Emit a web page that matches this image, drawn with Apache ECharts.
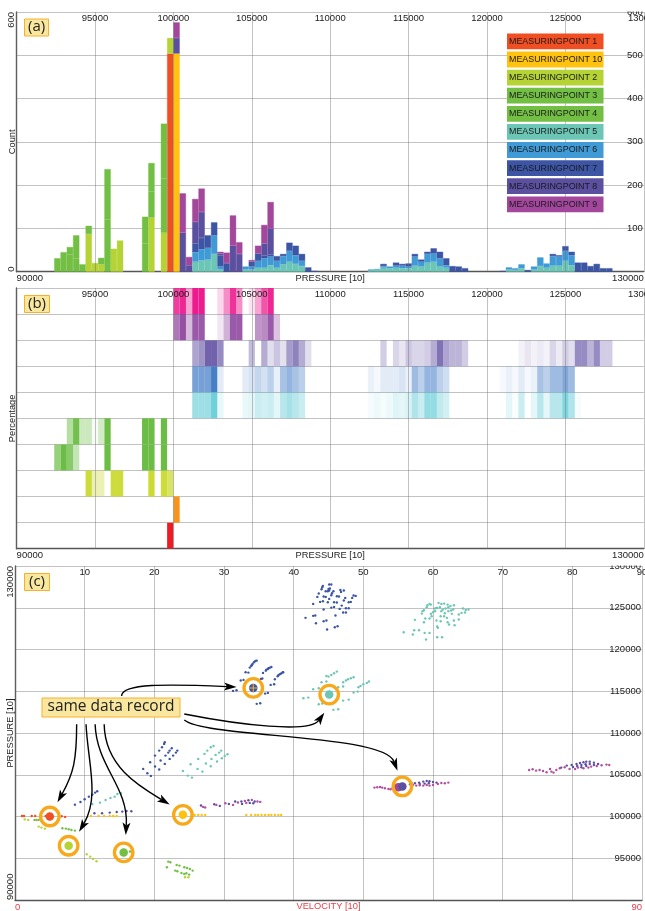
<!DOCTYPE html>
<html><head><meta charset="utf-8">
<style>html,body{margin:0;padding:0;background:#fff}#c{width:645px;height:911px}</style>
<script src="https://cdn.jsdelivr.net/npm/echarts@6/dist/echarts.min.js"></script>
</head><body><div id="c"></div>
<script>
// ---------- names / ticks ----------
const names = ['MEASURINGPOINT 1','MEASURINGPOINT 10','MEASURINGPOINT 2','MEASURINGPOINT 3','MEASURINGPOINT 4','MEASURINGPOINT 5','MEASURINGPOINT 6','MEASURINGPOINT 7','MEASURINGPOINT 8','MEASURINGPOINT 9'];
const binStart = 90000, binSize = 400, binCount = 100;

// ---------- (a) histogram counts: [bin index, count] ----------
const countMP1 = [[24,504]];
const countMP10 = [[25,504]];
const countMP2 = [[11,87],[12,20],[13,17],[15,53],[16,72],[21,125],[23,90],[24,36]];
const countMP3 = [[6,31],[7,45],[8,40],[9,30],[14,120],[20,65],[21,60],[23,125]];
const countMP4 = [[8,17],[9,54],[10,17],[11,19],[13,15],[14,117],[20,62],[21,66],[23,127]];
const countMP5 = [[28,23],[29,26],[30,28],[31,41],[32,5],[36,5],[37,5],[38,9],[39,9],[40,15],[41,9],[42,17],[43,23],[44,18],[45,13],[56,3],[57,5],[58,9],[59,8],[60,9],[61,8],[62,8],[63,14],[64,12],[65,21],[66,23],[67,12],[68,9],[78,5],[79,4],[80,8],[82,5],[83,13],[84,9],[85,14],[86,14],[87,25],[88,15]];
const countMP6 = [[28,22],[29,26],[30,27],[31,43],[32,7],[36,7],[37,7],[38,16],[39,22],[40,20],[41,16],[42,19],[43,25],[44,20],[45,12],[56,2],[57,1],[58,4],[59,4],[60,5],[61,6],[62,4],[63,21],[64,11],[65,20],[66,19],[67,19],[68,6],[78,5],[79,4],[80,9],[82,7],[83,20],[84,10],[85,22],[86,21],[87,23],[88,23]];
const countMP7 = [[28,20],[29,26],[30,29],[31,30],[32,26],[33,19],[37,11],[38,17],[39,6],[40,5],[41,11],[42,5],[43,19],[44,22],[45,16],[46,10],[47,2],[58,5],[60,7],[61,4],[62,7],[63,6],[64,5],[65,5],[66,12],[67,15],[68,16],[69,13],[70,12],[71,8],[77,2],[81,4],[85,5],[86,3],[87,11],[88,8],[89,21],[90,21],[91,13],[92,18],[93,8],[94,8]];
const countMP8 = [[25,36],[26,90],[27,15],[28,50],[29,60],[32,4],[33,1],[34,60],[35,41],[39,28],[40,60]];
const countMP9 = [[25,36],[26,91],[27,19],[28,53],[29,54],[32,4],[33,24],[34,70],[35,27],[37,4],[38,18],[39,43],[40,61]];
const countsAll = [countMP1,countMP10,countMP2,countMP3,countMP4,countMP5,countMP6,countMP7,countMP8,countMP9];

// ---------- (b) share of each bin: [bin index, share] ----------
const shareMP1 = [[24,1]];
const shareMP10 = [[25,1]];
const shareMP2 = [[11,.9],[12,.35],[13,.35],[15,.9],[16,.9],[21,.95],[23,.9],[24,.7]];
const shareMP3 = [[6,.7],[7,1],[8,.8],[9,.4],[14,1],[20,1],[21,1],[23,1]];
const shareMP4 = [[8,.5],[9,.95],[10,.35],[11,.35],[12,.05],[13,.3],[14,1],[20,1],[21,1],[23,1]];
const shareMP5 = [[28,.55],[29,.55],[30,.55],[31,.8],[32,.12],[36,.12],[37,.15],[38,.3],[39,.25],[40,.3],[41,.15],[42,.4],[43,.5],[44,.4],[45,.3],[56,.05],[57,.1],[58,.06],[59,.1],[60,.18],[61,.15],[62,.22],[63,.45],[64,.3],[65,.6],[66,.6],[67,.35],[68,.25],[78,.15],[79,.03],[80,.3],[82,.15],[83,.4],[84,.15],[85,.4],[86,.4],[87,.7],[88,.45],[89,.05]];
const shareMP6 = [[28,.7],[29,.7],[30,.7],[31,.95],[32,.15],[36,.15],[37,.2],[38,.3],[39,.22],[40,.35],[41,.12],[42,.45],[43,.55],[44,.45],[45,.35],[56,.1],[57,.05],[58,.15],[59,.15],[60,.15],[61,.2],[62,.1],[63,.5],[64,.35],[65,.55],[66,.55],[67,.35],[68,.25],[77,.05],[78,.1],[79,.05],[80,.15],[81,.05],[82,.1],[83,.45],[84,.35],[85,.5],[86,.5],[87,.65],[88,.5]];
const shareMP7 = [[28,.55],[29,.65],[30,.95],[31,.95],[32,.7],[37,.4],[39,.5],[40,.2],[41,.35],[42,.18],[43,.6],[44,.75],[45,.5],[46,.2],[58,.3],[60,.25],[61,.15],[62,.35],[63,.25],[64,.25],[65,.3],[66,.5],[67,.85],[68,.55],[69,.45],[70,.45],[71,.3],[80,.08],[81,.15],[82,.08],[83,.13],[84,.08],[85,.25],[86,.12],[87,.3],[88,.2],[89,.7],[90,.7],[91,.45],[92,.7],[93,.3],[94,.3]];
const shareMP8 = [[25,.7],[26,.9],[27,.35],[28,.85],[29,.85],[32,.12],[33,.4],[34,.85],[35,.85],[38,.55],[39,.6],[40,.85],[41,.3]];
const shareMP9 = [[25,.85],[26,.95],[27,.4],[28,1],[29,1],[32,.18],[33,.5],[34,.9],[35,.5],[37,.12],[38,.4],[39,.75],[40,.95]];
const sharesAll = [shareMP1,shareMP10,shareMP2,shareMP3,shareMP4,shareMP5,shareMP6,shareMP7,shareMP8,shareMP9];

// ---------- (c) records: [velocity, pressure] ----------
const pointsMP1 = [[1,100067],[1.3,100067],[2.4,100067],[2.9,100067],[6.7,100030],[7.2,99950],[4.4,100067]];
const pointsMP10 = [[10.9,100067],[12,100067],[12.8,100067],[13.6,100067],[14.1,100067],[14.6,100067],[25.8,100194],[26.3,100194],[26.8,100194],[27.3,100194],[33.2,100194],[33.9,100194],[34.5,100194],[34.9,100194],[35.4,100194],[35.9,100194],[36.4,100194],[36.8,100194],[37.3,100194],[37.8,100194],[38.2,100194]];
const pointsMP2 = [[1.4,99660],[1.9,99590],[3.4,98790],[3.8,98670],[4.3,98550],[10.3,95480],[10.8,95200],[11.2,94920],[11.7,94640],[24.4,92720],[24.9,92720]];
const pointsMP3 = [[2.8,99590],[3.1,99590],[3.4,99590],[6.8,98590],[7.3,98550],[7.7,98470],[8.1,98390],[8.6,98310]];
const pointsMP4 = [[22,94600],[22.3,94520],[23.2,94200],[23.6,94120],[24.3,93920],[24.7,93840],[25.1,93720],[25.5,93520],[21.8,93920],[23,93520],[23.3,93440],[23.9,93240],[24.3,93120],[24.6,93200],[25,93040],[16.5,95800],[16.8,95700]];
const pointsMP5 = [[59.2,125300],[59.5,125460],[59.7,125380],[59.1,125065],[58.7,124700],[58.4,124300],[58.5,124590],[57.4,123550],[58.9,123710],[58.7,123270],[59.7,124270],[60,124470],[60.3,124590],[59.8,123990],[59.5,123710],[60.5,124990],[60.8,125580],[61.2,125460],[61.6,125500],[62.1,125380],[62.5,125220],[63,125300],[60.3,124905],[60.6,124990],[61,125065],[61.4,124785],[61.8,124905],[62.2,125065],[62.6,124665],[62.9,124785],[61.2,124590],[61.7,124345],[62.2,124590],[62.7,124270],[61.1,123990],[61.6,123990],[62,123790],[60.5,123470],[61.1,123390],[62.1,123270],[62.3,122990],[63,123470],[63.7,123590],[63.1,122910],[63.7,124190],[64.1,124385],[64.3,124905],[64.7,124745],[65.1,124785],[64.6,124425],[60.6,122750],[60.7,122590],[55.8,122070],[57.3,122310],[58,122310],[57.1,121790],[58.8,121990],[59.5,121990],[59,121190],[60.6,121470],[61.3,121470],
[46.2,117355],[45.8,117155],[45.4,116955],[45,116755],[44.7,116835],[48.6,116680],[48.2,116555],[47.8,116440],[47.5,116280],[47.1,116080],[50.8,116160],[50.5,116000],[50,115840],[49.6,115640],[49.3,115480],[44,116080],[44.7,116160],[46.4,115480],[47.1,115560],[42.8,115240],[43.6,115360],[41.4,114160],[42.1,114240],[48.6,114840],[49.2,114960],[43.6,113445],[44.1,113525],[47.1,113880],[47.9,114000],[45.7,112770],[46.4,112850],
[28.5,108450],[28.1,108295],[27.6,107895],[27.2,107495],[26.3,106900],[29.6,107895],[29.3,107655],[28.8,107375],[28.2,106900],[27.4,106340],[30.5,107455],[30.1,107255],[29.7,106975],[29,106580],[28.1,106020],[25.2,106260],[26.2,105700],[26.9,105380],[24.1,105460],[24.8,104900],[25.4,104660],
[11.1,101500],[12.2,101660],[13,101980],[13.7,102220],[14.3,102380],[14.7,102700],[15.2,102780]];
const pointsMP6 = [[34.1,115500],[34.3,115300]];
const pointsMP7 = [[44.2,127620],[44.1,127460],[44,127220],[45.1,127780],[45.4,127780],[45,127260],[45.2,127300],[44.6,126980],[44.9,126980],[45.1,127060],[45.7,126980],[45.5,126740],[45.4,126500],[46.7,127140],[47.2,127060],[46.8,126900],[43.6,126700],[43.4,126300],[44.3,126340],[44.6,126300],[45.1,126060],[46.2,126380],[46.5,126340],[47.4,126180],[47.2,125860],[48.6,126460],[48.9,126420],[48.4,126180],[48.2,125700],[47.9,125660],[45.8,125660],[46.2,125620],[43.8,125700],[44.2,125780],[44.9,125660],[42.8,125460],[46.9,125260],[46.6,124860],[45.8,125100],[45.4,125020],[47.5,124940],[47.9,124940],[44.3,124790],[47.1,124430],[47.5,124430],[43.1,124070],[42.8,124030],[41.7,123790],[46,124070],[44.3,123390],[44.7,123470],[43.2,123150],[45.9,122670],[46.3,122790],[44.8,122390],
[34.5,118630],[34.3,118470],[34.1,118270],[33.9,118030],[33.7,117830],[34,118150],[34.7,118670],[36.6,117830],[36.4,117750],[36.3,117670],[36,117470],[35.6,117200],[36.1,117590],[36.8,117910],[38.4,117240],[38.2,117120],[38,117040],[37.7,116800],[37.3,116440],[38.5,117270],[37.8,116920],[33.1,117275],[33.5,117235],[32.4,116280],[32.8,116360],[35.3,116480],[35.5,116520],[36.7,115760],[37.2,115840],[31.3,115040],[31.8,115120],[35.9,114720],[36.3,114800],[34.7,113490],[35.2,113560],
[21.5,108890],[21.4,108695],[21.1,108290],[20.7,107895],[20.1,107295],[22.5,108175],[22.2,107895],[22,107655],[23.3,107895],[23.1,107655],[22.7,107295],[21.6,107295],[20.9,106700],[22.2,106900],[21.5,106300],[19.4,106500],[20.1,105980],[20.7,105620],[18.4,105700],[19,105180],[19.5,104860],
[8.6,101420],[9.4,101740],[10,102060],[10.6,102380],[11.1,102620],[11.5,102860],[11.8,103020]];
const pointsMP8 = [[26.7,101310],[28.6,101470],[29.4,101270],[30.7,101510],[31.6,101790],[32.6,101510],[33.5,101950],[34.4,101790],[33.7,101630],[34.2,101590],[32.5,101790],
[11.4,100386],[12.5,100386],[13.6,100466],[14.6,100546],[15.4,100585],[16,100665],[16.7,100625],
[54.8,103380],[55.2,103580],[55.7,103660],[56.7,103860],[57.4,103980],[58,104060],[58.6,104180],[59.1,104260],[59.5,104220],[60,104140],[60.5,104060],[58.1,103900],[58.8,103940],[59.4,103980],
[78.4,105855],[79.2,106095],[79.9,106175],[80.6,106295],[81.1,106415],[81.6,106490],[82,106570],[82.5,106570],[83.1,106450],[80.1,105935],[80.7,106055],[81.3,106175],[81.9,106255],[82.5,106295],[83.1,106175],[83.7,106295],[81.3,105895],[82,106055]];
const pointsMP9 = [[27,101150],[27.3,101070],[28.9,101390],[30.2,101590],[31.3,101390],[32,101670],[33,101870],[34,101990],[35.2,101750],[33.2,101630],[34.8,101790],
[51.6,103460],[52,103500],[52.4,103540],[52.7,103460],[53.1,103380],[53.6,103300],[53.9,103260],[54.2,103380],[57.1,103780],[57.6,103700],[58.1,103740],[58.6,103700],[59.1,103780],[59.5,103700],[60,103780],[60.7,103900],[61.2,104020],[61.7,103980],[62.2,104060],[56.9,104060],
[73.8,105575],[74.3,105655],[74.8,105495],[75.3,105575],[75.8,105455],[76.3,105295],[76.8,105695],[77,105375],[77.3,105255],[77.7,105575],[78.2,105775],[78.9,105895],[79.6,105695],[80.4,105695],[80.8,105855],[81.6,105775],[82.3,105855],[82.7,105975],[83.5,106055],[84.2,106135],[84.9,106215],[85.3,106175]];
const pointsAll = [pointsMP1,pointsMP10,pointsMP2,pointsMP3,pointsMP4,pointsMP5,pointsMP6,pointsMP7,pointsMP8,pointsMP9];

// the highlighted record in each measuring point: index into names, velocity, pressure
const sameRecord = [[0,5,100000],[1,24.1,100200],[2,7.7,96500],[4,15.6,95700],[5,45.1,114600],[7,34.2,115400],[9,55,103500],[8,55.6,103600]];
const ringed = [[5,100000],[24.1,100200],[7.7,96500],[15.6,95700],[45.1,114600],[34.2,115400],[55.6,103600]];

// callout arrows as cubic curves in data units: start, two controls, tip
const calloutArrows = [
 [15.3,114430,15.3,115950,21.8,115870,31.8,115510],
 [24.3,112275,32.3,110960,42.3,109960,44.4,112435],
 [24.3,111555,27.5,109360,52.9,109960,54.9,105490],
 [8.85,111040,8.85,106770,8.4,105170,6.1,101700],
 [10.2,111040,10.4,106770,12.2,102370,9.2,98180],
 [11.5,111040,11.7,105970,16.3,103570,15.9,97785],
 [12.8,111040,12.9,105970,17.9,103570,22.2,101450]
];

// ---------- styles ----------
const histColors = ['#f04e23','#ffc20e','#b5d334','#72bf44','#72bf44','#6bc6b5','#3f9ad6','#3c55a5','#5b4fa0','#a2479b'];
const shareColors = ['#ed1c24','#f7941d','#c9d826','#6cbd45','#6cbd45','#4cc4d0','#3d78c4','#6a5aa8','#8a3d9a','#ec1c8e'];
const FONT = 'Liberation Sans';
const AX = 9.5, GRID_LINE = {color:'rgba(110,110,110,0.42)',width:1}, AXIS_LINE = {color:'#555',width:1.4};
const panels = [{top:12,height:259.7},{top:288,height:260.7},{top:566,height:334}];
const gridSides = [{left:16.6,width:627.2},{left:16.6,width:627.2},{left:15,width:627}];

const binLabels = Array.from({length:binCount},(_,i)=>String(binStart+i*binSize));
function toArray(pairs){const a=new Array(binCount).fill(null);pairs.forEach(p=>a[p[0]]=p[1]);return a;}

function bottomX(gridIndex,min,max,interval,name,color){
  return {type:'value',gridIndex,position:'bottom',min,max,interval,name,nameLocation:'middle',nameGap:2,nameMoveOverlap:false,
    nameTextStyle:{fontFamily:FONT,fontSize:9.3,color:color||'#222',verticalAlign:'top'},
    axisLine:{show:true,onZero:false,lineStyle:AXIS_LINE},axisTick:{show:false},splitLine:{show:false},
    axisLabel:{fontFamily:FONT,fontSize:AX,color:color||'#222',margin:2,alignMinLabel:'left',alignMaxLabel:'right',showMinLabel:true,showMaxLabel:true,
      formatter:v=>(v===min||v===max)?String(v):''}};
}
function topX(gridIndex,min,max,interval){
  return {type:'value',gridIndex,position:'top',min,max,interval,z:10,
    axisLine:{show:false},axisTick:{show:false},splitLine:{show:true,lineStyle:GRID_LINE},
    axisLabel:{inside:true,fontFamily:FONT,fontSize:AX,color:'#222',margin:1,verticalAlign:'top',formatter:v=>v===min?'':String(v)}};
}
function leftY(gridIndex,min,max,interval,name){
  return {type:'value',gridIndex,position:'left',min,max,interval,name,nameLocation:'middle',nameRotate:90,nameGap:0,nameMoveOverlap:false,
    nameTextStyle:{fontFamily:FONT,fontSize:9.3,color:'#222',verticalAlign:'bottom'},
    axisLine:{show:true,onZero:false,lineStyle:AXIS_LINE},axisTick:{show:false},splitLine:{show:true,lineStyle:GRID_LINE},
    axisLabel:{rotate:90,fontFamily:FONT,fontSize:AX,color:'#222',margin:0,alignMinLabel:'left',alignMaxLabel:'right',showMinLabel:true,showMaxLabel:true,
      formatter:v=>(v===min||v===max)?String(v):''}};
}
function rightY(gridIndex,min,max,interval){
  return {type:'value',gridIndex,position:'right',min,max,interval,z:10,
    axisLine:{show:false},axisTick:{show:false},splitLine:{show:false},
    axisLabel:{inside:true,fontFamily:FONT,fontSize:AX,color:'#222',margin:1,align:'right',formatter:v=>v===min?'':String(v)}};
}

const xAxis = [
  {type:'category',gridIndex:0,data:binLabels,show:false,boundaryGap:true},   // 0 bars
  bottomX(0,90000,130000,5000,'PRESSURE [10]'),                               // 1
  topX(0,90000,130000,5000),                                                  // 2
  bottomX(1,90000,130000,5000,'PRESSURE [10]'),                               // 3
  topX(1,90000,130000,5000),                                                  // 4
  bottomX(2,0,90,10,'VELOCITY [10]','#e8404a'),                               // 5
  topX(2,0,90,10)                                                             // 6
];
const yAxis = [
  leftY(0,0,600,100,'Count'),      // 0
  rightY(0,0,600,100),             // 1
  {type:'category',gridIndex:1,data:names,name:'Percentage',nameLocation:'middle',nameRotate:90,nameGap:0,nameMoveOverlap:false,
    nameTextStyle:{fontFamily:FONT,fontSize:9.3,color:'#222',verticalAlign:'bottom'},
    axisLine:{show:true,lineStyle:AXIS_LINE},axisTick:{show:false},axisLabel:{show:false},
    splitLine:{show:true,lineStyle:GRID_LINE}},                              // 2
  leftY(2,90000,130000,5000,'PRESSURE [10]'), // 3
  rightY(2,90000,130000,5000)                 // 4
];

const series = [];
// (a)
names.forEach((n,i)=>series.push({name:n,type:'bar',stack:'count',xAxisIndex:0,yAxisIndex:0,barCategoryGap:'0%',barWidth:'100%',
  itemStyle:{color:histColors[i],borderColor:histColors[i],borderWidth:0.4},data:toArray(countsAll[i]),z:3}));
// (b)
names.forEach((n,i)=>series.push({name:n,type:'custom',xAxisIndex:4,yAxisIndex:2,clip:true,itemStyle:{color:histColors[i]},
  encode:{x:[0,1],y:2},
  data:sharesAll[i].map(p=>[binStart+p[0]*binSize,binStart+(p[0]+1)*binSize,n,p[1]]),
  renderItem:(params,api)=>{
    const a=api.coord([api.value(0),i]),b=api.coord([api.value(1),i]),h=api.size([0,1])[1];
    return {type:'rect',shape:{x:a[0],y:a[1]-h/2,width:b[0]-a[0],height:h},
      style:{fill:shareColors[i],opacity:api.value(3)}};
  },z:3}));
// (c)
names.forEach((n,i)=>series.push({name:n,type:'scatter',xAxisIndex:6,yAxisIndex:3,symbolSize:2.4,
  itemStyle:{color:i===9?'#b0509f':histColors[i],opacity:1},data:pointsAll[i],z:11}));
series.push({type:'scatter',name:'same record',xAxisIndex:6,yAxisIndex:3,symbolSize:8.5,z:12,
  data:sameRecord.map(r=>({value:[r[1],r[2]],itemStyle:{color:histColors[r[0]],opacity:1}}))});
series.push({type:'scatter',name:'same record cross',xAxisIndex:6,yAxisIndex:3,z:13,symbol:'path://M4 0h1v9h-1zM0 4h9v1h-9z',symbolSize:9,
  itemStyle:{color:'#f5b32c',opacity:1},data:[ringed[5]]});
series.push({type:'scatter',name:'same record ring',xAxisIndex:6,yAxisIndex:3,symbolSize:18.5,z:13,
  itemStyle:{color:'rgba(0,0,0,0)',borderColor:'#f7a81b',borderWidth:3.3,opacity:1},data:ringed});
series.push({type:'custom',name:'callouts',xAxisIndex:6,yAxisIndex:3,clip:false,z:14,silent:true,
  encode:{x:[0,2,4,6],y:[1,3,5,7]},data:calloutArrows,
  renderItem:(params,api)=>{
    const p0=api.coord([api.value(0),api.value(1)]),p1=api.coord([api.value(2),api.value(3)]),
          p2=api.coord([api.value(4),api.value(5)]),p3=api.coord([api.value(6),api.value(7)]);
    let dx=p3[0]-p2[0],dy=p3[1]-p2[1];const L=Math.hypot(dx,dy)||1;dx/=L;dy/=L;
    const hl=12.5,hw=4,nx=-dy,ny=dx;
    const base=[p3[0]-dx*hl,p3[1]-dy*hl],notch=[p3[0]-dx*(hl-3),p3[1]-dy*(hl-3)];
    return {type:'group',children:[
      {type:'bezierCurve',shape:{x1:p0[0],y1:p0[1],cpx1:p1[0],cpy1:p1[1],cpx2:p2[0],cpy2:p2[1],x2:notch[0],y2:notch[1]},
       style:{stroke:'#000',lineWidth:1.4,fill:null}},
      {type:'polygon',shape:{points:[p3,[base[0]+nx*hw,base[1]+ny*hw],notch,[base[0]-nx*hw,base[1]-ny*hw]]},style:{fill:'#000'}}
    ]};
  }});

const boxStyle = {backgroundColor:'#f9e79f',borderColor:'#f6b02c',borderWidth:1};
const boxText = {fontFamily:'Open Sans',fontWeight:'normal',color:'#222'};
const option = {
  animation:false,backgroundColor:'#fff',
  textStyle:{fontFamily:FONT},
  grid:panels.map((p,i)=>({...gridSides[i],top:p.top,height:p.height,containLabel:false,outerBoundsMode:'none'})),
  xAxis,yAxis,series,
  title:[
    {text:'(a)',left:24.5,top:18.5,padding:[1,3.5,2,3.5],...boxStyle,textStyle:{...boxText,fontSize:15},z:20},
    {text:'(b)',left:24.5,top:295,padding:[1,3.5,2,3.5],...boxStyle,textStyle:{...boxText,fontSize:15},z:20},
    {text:'(c)',left:24.5,top:573,padding:[1,4.5,2,4.5],...boxStyle,textStyle:{...boxText,fontSize:15},z:20},
    {text:'same data record',left:41.5,top:697.5,padding:[1,6,3,6],...boxStyle,textStyle:{...boxText,fontSize:15.5},z:20}
  ],
  legend:{orient:'vertical',left:501,top:33.5,padding:0,itemGap:2.3,itemWidth:0,itemHeight:0,selectedMode:false,z:15,
    data:names.map((n,i)=>({name:n,icon:'rect',itemStyle:{opacity:0},
      textStyle:{fontFamily:FONT,fontSize:8.9,color:'#1a1a1a',backgroundColor:histColors[i],width:92.5,padding:[3.4,2,3.4,2],lineHeight:9}}))},
  graphic:[
    {type:'rect',silent:true,z:100,shape:{x:615,y:0,width:30,height:11.5},style:{fill:'#fff'}},
    {type:'rect',silent:true,z:100,shape:{x:600,y:560,width:45,height:5.5},style:{fill:'#fff'}}
  ]
};
const chart = echarts.init(document.getElementById('c'),null,{renderer:'canvas'});
chart.setOption(option);
</script></body></html>
